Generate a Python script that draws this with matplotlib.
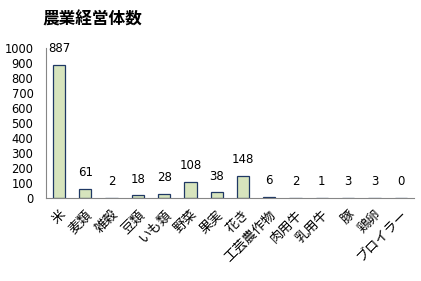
import numpy as np
import matplotlib
matplotlib.use("Agg")
import matplotlib.pyplot as plt

plt.rcParams['font.family'] = ['Noto Sans CJK JP', 'DejaVu Sans']

# データ
categories = ['米', '麦類', '雑穀', '豆類', 'いも類', '野菜', '果実', '花き',
              '工芸農作物', '肉用牛', '乳用牛', '豚', '鶏卵', 'ブロイラー']
values = [887, 61, 2, 18, 28, 108, 38, 148, 6, 2, 1, 3, 3, 0]
y_ticks = [0, 100, 200, 300, 400, 500, 600, 700, 800, 900, 1000]

fig = plt.figure(figsize=(4.21, 2.81), dpi=100)
ax = fig.add_axes([0.109, 0.295, 0.874, 0.534])

x = np.arange(len(categories))
bars = ax.bar(x, values, width=0.47, color='#d7e4bd', edgecolor='#1f3864', linewidth=0.9)

# 値ラベル
for barra, v in zip(bars, values):
    ax.text(barra.get_x() + barra.get_width() / 2, v + 65, str(v),
            ha='center', va='bottom', fontsize=8.5, family=['DejaVu Sans'],
            clip_on=False)

ax.set_xlim(-0.5, len(categories) - 0.5)
ax.set_ylim(0, 1000)
ax.set_yticks(y_ticks)
ax.set_yticklabels([str(t) for t in y_ticks], fontsize=8.3, family=['DejaVu Sans'])
ax.set_xticks(x)
ax.set_xticklabels(categories, rotation=45, ha='right', rotation_mode='anchor', fontsize=9.5)
ax.tick_params(axis='both', length=0)
ax.tick_params(axis='x', pad=7)
ax.tick_params(axis='y', pad=9)

for s in ['top', 'right']:
    ax.spines[s].set_visible(False)
for s in ['left', 'bottom']:
    ax.spines[s].set_color('#868686')
    ax.spines[s].set_linewidth(0.8)

fig.text(0.10, 0.93, '農業経営体数', fontsize=12, fontweight='bold', ha='left', va='center')

fig.savefig('out.png', dpi=100)
